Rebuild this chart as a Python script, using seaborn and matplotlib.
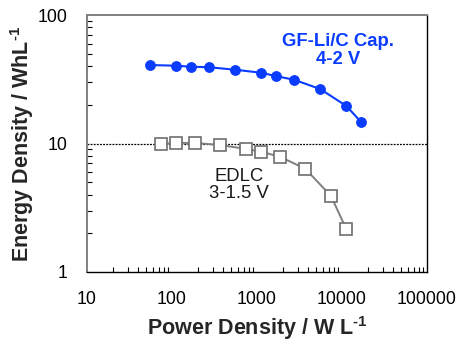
import matplotlib
matplotlib.use("Agg")
import matplotlib.pyplot as plt
import seaborn as sns
import pandas as pd
from matplotlib.ticker import LogLocator, NullFormatter, FixedLocator

# Data
gf_power = [55.6, 111, 166, 275, 556, 1125, 1660, 2750, 5560, 11250, 16600]
gf_energy = [40.8, 40.3, 39.6, 39.2, 37.5, 35.5, 33.5, 31.3, 26.5, 19.6, 14.8]
edlc_power = [74, 111, 185, 370, 743, 1125, 1867, 3700, 7430, 11250]
edlc_energy = [9.96, 10.1, 10.1, 9.73, 9.07, 8.62, 7.88, 6.36, 3.9, 2.15]

x_ticks = [10, 100, 1000, 10000, 100000]
x_ticklabels = ["10", "100", "1000", "10000", "100000"]
y_ticks = [1, 10, 100]
y_ticklabels = ["1", "10", "100"]

sns.set_style("white")
plt.rcParams['font.family'] = ['Liberation Sans', 'DejaVu Sans']
plt.rcParams['mathtext.fontset'] = 'custom'
plt.rcParams['mathtext.rm'] = 'Liberation Sans:bold'
plt.rcParams['mathtext.bf'] = 'Liberation Sans:bold'

fig = plt.figure(figsize=(4.59, 3.41), dpi=100)
ax = fig.add_axes([87/459, (341-272)/341, 340/459, 257/341])

df_gf = pd.DataFrame({"P": gf_power, "E": gf_energy})
df_ed = pd.DataFrame({"P": edlc_power, "E": edlc_energy})

ax.axhline(10, color="black", linestyle=(0, (1.5, 1)), linewidth=0.9, zorder=1)

sns.lineplot(data=df_ed, x="P", y="E", ax=ax, color="#7f7f7f", linewidth=1.4,
             marker="s", markersize=8, markerfacecolor="white",
             markeredgecolor="#6e6e6e", markeredgewidth=1.2, zorder=3)
sns.lineplot(data=df_gf, x="P", y="E", ax=ax, color="#0a3cff", linewidth=1.5,
             marker="o", markersize=7, markerfacecolor="#0a3cff",
             markeredgecolor="#0a3cff", zorder=4)

ax.set_xscale("log")
ax.set_yscale("log")
ax.set_xlim(10, 100000)
ax.set_ylim(1, 100)

ax.xaxis.set_major_locator(FixedLocator(x_ticks))
ax.set_xticklabels(x_ticklabels)
ax.yaxis.set_major_locator(FixedLocator(y_ticks))
ax.set_yticklabels(y_ticklabels)
ax.xaxis.set_minor_locator(LogLocator(base=10, subs=range(2, 10)))
ax.yaxis.set_minor_locator(LogLocator(base=10, subs=range(2, 10)))
ax.xaxis.set_minor_formatter(NullFormatter())
ax.yaxis.set_minor_formatter(NullFormatter())

ax.tick_params(axis="both", which="major", length=0, labelsize=12.8, colors="black")
ax.tick_params(axis="x", which="major", pad=14)
ax.tick_params(axis="y", which="major", pad=14)
ax.tick_params(axis="both", which="minor", direction="in", length=3.5, width=0.8, color="black")
ax.tick_params(axis="x", which="minor", bottom=True, top=False)
ax.tick_params(axis="y", which="minor", left=True, right=False)

for side in ["left", "top"]:
    ax.spines[side].set_color("#808080")
    ax.spines[side].set_linewidth(1.4)
for side in ["bottom", "right"]:
    ax.spines[side].set_color("black")
    ax.spines[side].set_linewidth(1.0)
for s in ax.spines.values():
    s.set_visible(True)

ax.set_xlabel(r"Power Density / W L$^{\text{-1}}$", fontsize=15.5, fontweight="bold")
ax.set_ylabel(r"Energy Density / WhL$^{\text{-1}}$", fontsize=15.5, fontweight="bold")
ax.xaxis.set_label_coords(0.5, -0.245)
ax.xaxis.label.set_va("baseline")
ax.yaxis.set_label_coords(-0.191, 0.5)
ax.yaxis.label.set_va("center")

ax.text(0.738, 0.862, "GF-Li/C Cap.\n4-2 V", transform=ax.transAxes,
        ha="center", va="center", fontsize=13.3, fontweight="bold",
        color="#0a3cff", linespacing=1.05)
ax.text(0.446, 0.3385, "EDLC\n3-1.5 V", transform=ax.transAxes,
        ha="center", va="center", fontsize=13.3, color="#1a1a1a",
        linespacing=1.05)

fig.savefig("out.png", dpi=100)
